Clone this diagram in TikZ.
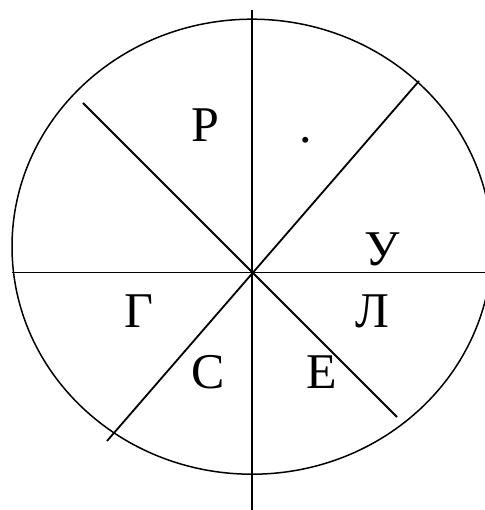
\documentclass[tikz,border=0pt]{standalone}
\usepackage{fontspec}
\setmainfont{Liberation Serif}
\begin{document}
\begin{tikzpicture}[x=1pt,y=-1pt,
  seg/.style={line width=1.8pt},
  rim/.style={line width=1.5pt},
  lab/.style={anchor=base,inner sep=0pt,font=\fontsize{50}{60}\selectfont}]
\useasboundingbox (0,0) rectangle (484,510);
\draw[rim] (252,246.7) ellipse [x radius=240, y radius=227.5];
\coordinate (vt) at (252,10);
\coordinate (vb) at (252,515);
\coordinate (hl) at (12,272.5);
\coordinate (hr) at (490,272.5);
\coordinate (d1a) at (83,103);
\coordinate (d1b) at (397,417);
\coordinate (d2a) at (419,81);
\coordinate (d2b) at (107,441);
\draw[seg] (vt) -- (vb);
\draw[seg] (hl) -- (hr);
\draw[seg] (d1a) -- (d1b);
\draw[seg] (d2a) -- (d2b);
\node[lab] (r) at (205,142) {Р};
\node[lab] (dot) at (306,143) {.};
\node[lab] (u) at (382,265) {У};
\node[lab] (g) at (139,327) {Г};
\node[lab] (l) at (372,327) {Л};
\node[lab] (s) at (208,388) {С};
\node[lab] (e) at (322,388) {Е};
\end{tikzpicture}
\end{document}
